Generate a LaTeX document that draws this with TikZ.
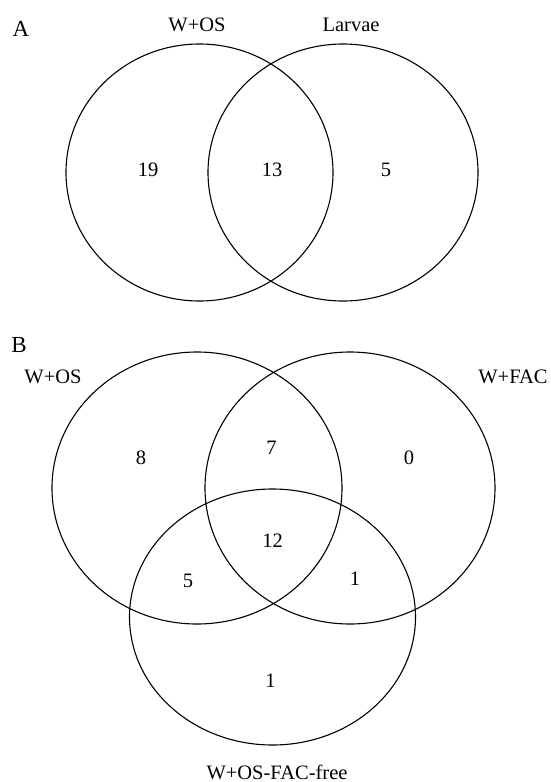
\documentclass[tikz,border=0pt]{standalone}
\usepackage{fontspec}
\setmainfont{Liberation Serif}
\usetikzlibrary{shapes.geometric}
\begin{document}
\begin{tikzpicture}[x=1pt,y=-1pt,
  setring/.style 2 args={draw=black,line width=1.1pt,ellipse,inner sep=0pt,
    minimum width=#1pt,minimum height=#2pt},
  lbl/.style={font=\fontsize{20.5}{24}\selectfont,inner sep=0pt},
  cnt/.style={font=\fontsize{20.5}{24}\selectfont,inner sep=0pt},
  panel/.style={font=\fontsize{23}{26}\selectfont,inner sep=0pt}]
\useasboundingbox (0,0) rectangle (550,782);

% ---- Panel A: two sets ----
\node[panel] (pA) at (21,29) {A};
\node[setring={267}{257}] (aL) at (199.5,172.5) {};
\node[setring={270}{257}] (aR) at (343,172.5) {};
\node[lbl] (aLt) at (197,25) {W+OS};
\node[lbl] (aRt) at (351,25) {Larvae};
\node[cnt] (a1) at (148,170) {19};
\node[cnt] (a2) at (272,170) {13};
\node[cnt] (a3) at (386,170) {5};

% ---- Panel B: three sets ----
\node[panel] (pB) at (19,345) {B};
\node[setring={290}{272}] (bL) at (197,488) {};
\node[setring={290}{272}] (bR) at (350,488) {};
\node[setring={286}{256}] (bB) at (272.5,617) {};
\node[lbl] (bLt) at (53,377) {W+OS};
\node[lbl] (bRt) at (513,377) {W+FAC};
\node[lbl] (bBt) at (277,772) {W+OS-FAC-free};
\node[cnt] (b1) at (141,458) {8};
\node[cnt] (b2) at (271.5,448) {7};
\node[cnt] (b3) at (409,458) {0};
\node[cnt] (b4) at (272.5,541) {12};
\node[cnt] (b5) at (188,581) {5};
\node[cnt] (b6) at (355,579) {1};
\node[cnt] (b7) at (270.5,681) {1};
\end{tikzpicture}
\end{document}
